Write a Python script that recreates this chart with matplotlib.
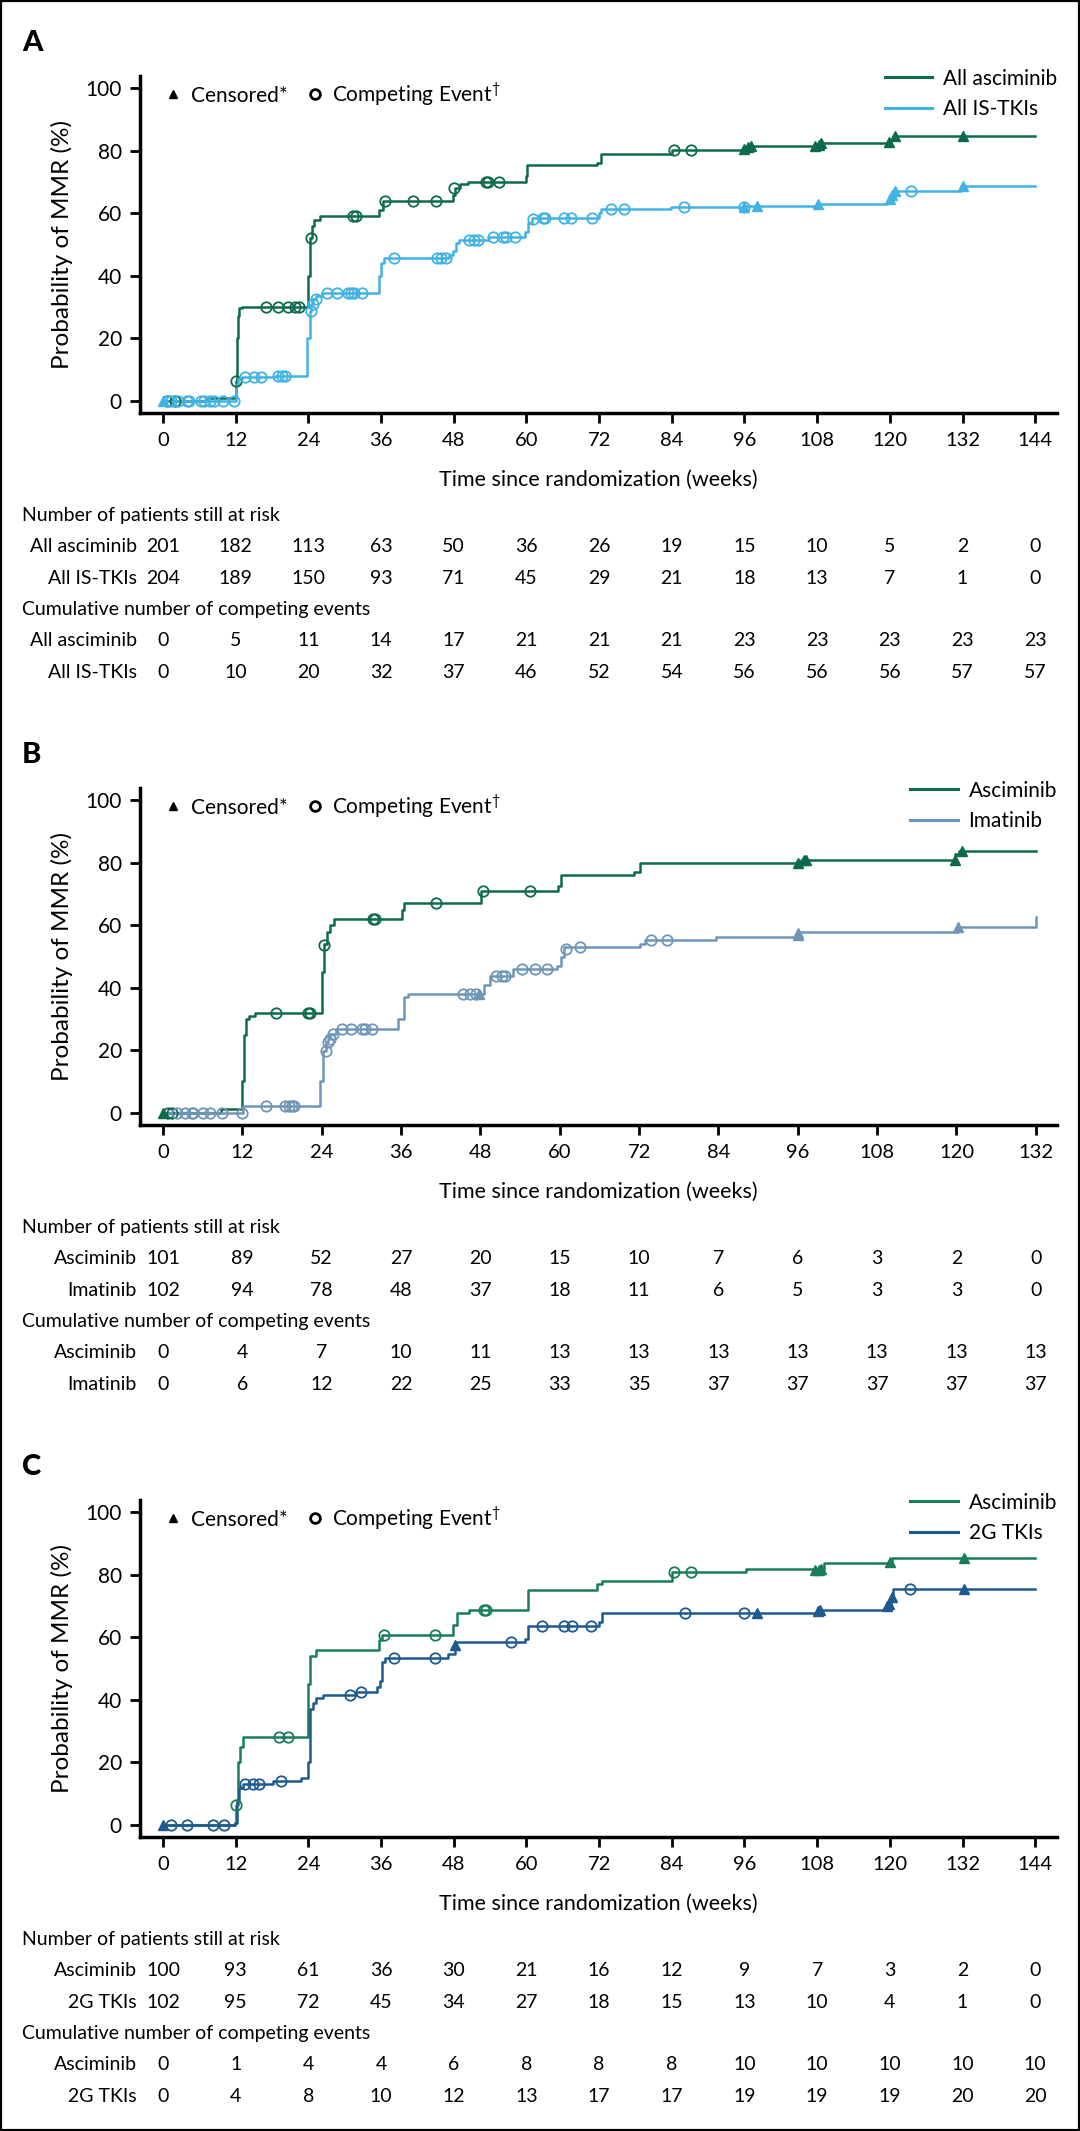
# -*- coding: utf-8 -*-
"""
Cumulative incidence of MMR, three panels (A, B, C) with at-risk tables.
"""

import numpy as np
import matplotlib
matplotlib.use('Agg')
import matplotlib.pyplot as plt
import matplotlib.transforms as mtransforms
from matplotlib.lines import Line2D
from matplotlib.patches import Rectangle

W, H = 1080, 2131

# ---------------- panel A : all asciminib vs all IS-TKIs ----------------
a_asc_t = [0, 7.5, 12.0, 12.2, 12.4, 12.6, 13.0, 23.9, 24.3, 24.6, 24.9, 25.9, 35.6, 36.3,
           47.9, 48.2, 49.0, 50.4, 59.9, 60.1, 71.6, 72.3, 84.0, 96.5, 108.7, 119.9, 120.5, 144]
a_asc_v = [0, 0.9, 6.4, 20, 27, 29.5, 30, 40, 52, 56, 58, 59, 61, 64,
           66, 68, 69.5, 70, 72, 75.4, 76, 79, 80.4, 81.6, 82.5, 83.5, 84.8, 84.8]
a_asc_cens_t = [96.0, 96.6, 97.0, 107.7, 108.3, 108.7, 119.9, 120.8, 132.1]
a_asc_cens_v = [80.6, 81.2, 81.6, 81.6, 82.0, 82.5, 82.8, 84.8, 84.8]
a_asc_comp_t = [0.6, 2.0, 12.0, 17.0, 19.0, 20.7, 21.8, 22.4, 24.4, 31.3, 31.9, 36.6, 41.2, 45.0,
                48.1, 53.3, 53.6, 55.4, 84.3, 87.1]
a_asc_comp_v = [0, 0, 6.4, 30, 30, 30, 30, 30, 52, 59, 59, 64, 64, 64,
                68, 70, 70, 70, 80.4, 80.4]

a_ist_t = [0, 12.0, 12.3, 13.0, 18.5, 23.7, 24.2, 24.5, 24.8, 25.2, 26.2, 35.6, 36.0, 36.5,
           47.2, 47.8, 48.3, 48.8, 53.8, 59.8, 60.3, 61.0, 71.9, 72.3, 83.8, 96.0, 107.9,
           119.6, 120.0, 120.4, 120.8, 131.8, 144]
a_ist_v = [0, 5, 7, 7.5, 8, 20, 28.8, 31, 32.5, 33.5, 34.5, 40, 44, 45.6,
           46.5, 48, 50.4, 51.4, 52.3, 54, 57, 58.5, 60, 61.4, 61.9, 62.4, 63.1,
           64, 65.5, 66.5, 67.0, 68.6, 68.6]
a_ist_cens_t = [0.0, 96.0, 98.1, 108.2, 120.0, 120.4, 120.8, 132.0]
a_ist_cens_v = [0, 62.0, 62.4, 63.1, 64.5, 66.0, 67.0, 68.6]
a_ist_comp_t = [0.85, 1.4, 2.4, 4.0, 4.3, 6.3, 6.8, 7.7, 8.5, 9.9, 11.7,
                13.5, 15.0, 16.1, 19.0, 19.7, 20.1, 24.4, 24.8, 25.2,
                27.1, 28.7, 30.5, 31.0, 31.6, 32.8, 38.2, 45.2, 45.9, 46.7,
                50.6, 51.4, 52.0, 54.4, 56.2, 56.6, 58.1, 61.1, 62.7, 63.0,
                66.2, 67.3, 70.8, 73.9, 76.1, 86.0, 96.0, 123.5]
a_ist_comp_v = [0, 0, 0, 0, 0, 0, 0, 0, 0, 0, 0,
                7.5, 7.5, 7.5, 8, 8, 8, 28.8, 31, 32.5,
                34.5, 34.5, 34.5, 34.5, 34.5, 34.5, 45.6, 45.6, 45.6, 45.6,
                51.4, 51.4, 51.4, 52.3, 52.3, 52.3, 52.3, 58.2, 58.5, 58.5,
                58.5, 58.5, 58.5, 61.4, 61.4, 61.9, 62.0, 67.0]

a_ticks = list(range(0, 145, 12))
a_risk_asc = [201, 182, 113, 63, 50, 36, 26, 19, 15, 10, 5, 2, 0]
a_risk_ist = [204, 189, 150, 93, 71, 45, 29, 21, 18, 13, 7, 1, 0]
a_cum_asc = [0, 5, 11, 14, 17, 21, 21, 21, 23, 23, 23, 23, 23]
a_cum_ist = [0, 10, 20, 32, 37, 46, 52, 54, 56, 56, 56, 57, 57]

# ---------------- panel B : asciminib vs imatinib ----------------
b_asc_t = [0, 8.7, 12.0, 12.3, 12.6, 13.0, 13.9, 24.0, 24.4, 24.8, 25.2, 25.8, 36.1, 36.4,
           48.1, 59.8, 60.2, 71.3, 72.1, 96.5, 119.8, 120.4, 132]
b_asc_v = [0, 1.0, 10, 25, 30, 31, 32, 45, 54, 58, 60, 62, 65, 67.1,
           71.0, 72.5, 76.1, 77, 79.9, 80.9, 83, 83.8, 83.8]
b_asc_cens_t = [0.0, 96.0, 96.9, 97.2, 119.8, 120.9]
b_asc_cens_v = [0, 79.9, 80.9, 80.9, 80.9, 83.8]
b_asc_comp_t = [0.8, 1.4, 17.1, 22.0, 22.3, 24.4, 31.7, 32.1, 41.3, 48.4, 55.5]
b_asc_comp_v = [0, 0, 32, 32, 32, 53.8, 62, 62, 67.1, 71.0, 71.0]

b_ima_t = [0, 12.1, 23.8, 24.2, 24.6, 24.9, 25.3, 26.1, 35.6, 36.4, 37.1, 48.6, 49.4, 53.0,
           59.6, 60.2, 60.6, 72.1, 72.9, 83.6, 96.0, 120.2, 132, 132]
b_ima_v = [0, 2.1, 10, 19.8, 22.7, 23.7, 25.3, 26.9, 30, 37, 38.1, 41, 43.7, 46.0,
           47, 50, 52.9, 54, 55.4, 56.4, 57.7, 59.3, 59.3, 62.5]
b_ima_cens_t = [47.8, 96.0, 96.1, 120.2]
b_ima_cens_v = [38.1, 56.8, 57.5, 59.3]
b_ima_comp_t = [2.1, 3.3, 4.4, 4.6, 6.1, 7.1, 8.9, 11.9, 15.6, 18.5, 19.0, 19.5, 19.8,
                24.6, 24.9, 25.2, 25.7, 27.0, 28.5, 30.1, 30.5, 31.6, 45.3, 46.4, 47.3,
                50.4, 51.2, 51.7, 54.3, 56.2, 58.1, 61.0, 63.1, 73.8, 76.2]
b_ima_comp_v = [0, 0, 0, 0, 0, 0, 0, 0, 2.1, 2.1, 2.1, 2.1, 2.1,
                19.8, 22.7, 23.7, 25.3, 26.9, 26.9, 26.9, 26.9, 26.9, 38.1, 38.1, 38.1,
                43.7, 43.7, 43.7, 46, 46, 46, 52.5, 52.9, 55.4, 55.4]

b_ticks = list(range(0, 133, 12))
b_risk_asc = [101, 89, 52, 27, 20, 15, 10, 7, 6, 3, 2, 0]
b_risk_ima = [102, 94, 78, 48, 37, 18, 11, 6, 5, 3, 3, 0]
b_cum_asc = [0, 4, 7, 10, 11, 13, 13, 13, 13, 13, 13, 13]
b_cum_ima = [0, 6, 12, 22, 25, 33, 35, 37, 37, 37, 37, 37]

# ---------------- panel C : asciminib vs 2G TKIs ----------------
c_asc_t = [0, 11.9, 12.0, 12.4, 12.7, 13.2, 23.9, 24.3, 25.3, 35.6, 36.2, 47.8, 48.5, 50.5,
           60.2, 71.6, 72.5, 84.1, 96.3, 109.1, 120.0, 120.3, 144]
c_asc_v = [0, 0.5, 6.1, 20, 25, 27.9, 45, 54, 55.9, 59, 60.8, 64, 67.9, 68.7,
           75.0, 77, 78.0, 80.8, 81.9, 83.7, 84.5, 85.5, 85.5]
c_asc_cens_t = [107.7, 108.3, 108.7, 120.1, 132.2]
c_asc_cens_v = [81.7, 81.7, 81.9, 84.0, 85.5]
c_asc_comp_t = [12.0, 19.1, 20.6, 36.5, 44.9, 53.0, 53.4, 84.4, 87.2]
c_asc_comp_v = [6.1, 27.9, 27.9, 60.8, 60.8, 68.7, 68.7, 80.8, 80.8]

c_2g_t = [0, 11.9, 12.2, 12.5, 13.2, 18.1, 22.8, 23.9, 24.3, 24.7, 25.3, 26.4, 31.9, 35.4,
          35.8, 36.2, 36.7, 47.0, 48.2, 48.4, 59.8, 60.2, 71.9, 72.5, 108.0, 119.5, 120.2,
          120.5, 144]
c_2g_v = [0, 0.5, 8, 11.7, 13.0, 13.8, 14.9, 20, 37, 39, 40.5, 41.4, 42.5, 44,
          46, 52, 53.4, 54.5, 57, 58.4, 59.5, 63.5, 65, 67.7, 68.8, 70, 72.5,
          75.4, 75.4]
c_2g_cens_t = [0.0, 48.2, 98.1, 108.1, 108.4, 119.5, 119.8, 120.3, 132.2]
c_2g_cens_v = [0, 57.5, 67.7, 68.4, 68.8, 70, 70.8, 73, 75.4]
c_2g_comp_t = [1.4, 4.0, 8.2, 10.0, 13.6, 14.9, 15.9, 19.4, 30.8, 32.7, 38.1, 44.9,
               57.5, 62.5, 66.2, 67.5, 70.7, 86.1, 96.0, 123.3]
c_2g_comp_v = [0, 0, 0, 0, 13, 13, 13, 13.8, 41.4, 42.5, 53.4, 53.4,
               58.4, 63.5, 63.5, 63.5, 63.5, 67.7, 67.7, 75.4]

c_ticks = list(range(0, 145, 12))
c_risk_asc = [100, 93, 61, 36, 30, 21, 16, 12, 9, 7, 3, 2, 0]
c_risk_2g = [102, 95, 72, 45, 34, 27, 18, 15, 13, 10, 4, 1, 0]
c_cum_asc = [0, 1, 4, 4, 6, 8, 8, 8, 10, 10, 10, 10, 10]
c_cum_2g = [0, 4, 8, 10, 12, 13, 17, 17, 19, 19, 19, 20, 20]

GREEN = '#0e6a4e'
GREEN_C = '#187d58'
LIGHTBLUE = '#41b3e2'
STEEL = '#6f96b7'
NAVY = '#1d5a8f'

plt.rcParams['font.family'] = ['Lato', 'DejaVu Sans']
plt.rcParams['mathtext.fontset'] = 'custom'
plt.rcParams['mathtext.rm'] = 'Lato'


def py(p):
    return 1 - p / H


"""
Draws one panel: the curves in an axes whose bottom spine sits at bottom_px,
then the two tables of numbers underneath, aligned on the x ticks.
"""
def drawPanel(fig, letter, bottom_px, xright, ticks, curves, labels, risk, cum):
    ax = fig.add_axes([140 / W, py(bottom_px), 917 / W, 337 / H])
    for t, v, col, ct, cv, et, ev in curves:
        ax.step(t, v, where='post', color=col, lw=1.8, zorder=3)
        ax.plot(et, ev, ls='none', marker='o', ms=7.5, mfc='none', mec=col, mew=1.3, zorder=4)
        ax.plot(ct, cv, ls='none', marker='^', ms=6.5, color=col, mec=col, zorder=5)

    ax.set_xlim(-3.8 * (xright / 147.6), xright)
    ax.set_ylim(-4, 104)
    ax.set_xticks(ticks)
    ax.set_yticks([0, 20, 40, 60, 80, 100])
    for s in ['top', 'right']:
        ax.spines[s].set_visible(False)
    for s in ['left', 'bottom']:
        ax.spines[s].set_linewidth(2.5)
    ax.tick_params(axis='both', direction='out', width=2, length=7)
    ax.tick_params(axis='x', labelsize=14.5, pad=7)
    ax.tick_params(axis='y', labelsize=15, pad=6)

    ax.text((62 - 140) / 917, 0.5, 'Probability of MMR (%)', transform=ax.transAxes,
            rotation=90, ha='center', va='center', fontsize=17.5)

    # line legend, top right
    handles = [Line2D([], [], color=c[2], lw=2.2) for c in curves]
    leg = ax.legend(handles, labels, loc='upper right', bbox_to_anchor=(1.0, 1.022),
                    frameon=False, fontsize=15, handlelength=2.3, handletextpad=0.5,
                    labelspacing=0.5, borderpad=0, borderaxespad=0)
    ax.add_artist(leg)

    # marker key, top left
    keys = [Line2D([], [], ls='none', marker='^', ms=6, color='black'),
            Line2D([], [], ls='none', marker='o', ms=7, mfc='none', mec='black', mew=2)]
    ax.legend(keys, ['Censored*', r'Competing Event$^{\dagger}$'], loc='center left',
              bbox_to_anchor=(0.027, 0.947), ncol=2, frameon=False, fontsize=15,
              handlelength=0.8, handletextpad=0.45, columnspacing=0.9,
              borderpad=0, borderaxespad=0)

    fig.text(22 / W, py(bottom_px - 370), letter, fontsize=21, fontweight='black',
             ha='left', va='center')
    fig.text((140 + 917 / 2) / W, py(bottom_px + 67), 'Time since randomization (weeks)',
             ha='center', va='center', fontsize=15.5)

    trans = mtransforms.blended_transform_factory(ax.transData, fig.transFigure)
    fig.text(22 / W, py(bottom_px + 102), 'Number of patients still at risk',
             ha='left', va='center', fontsize=14)
    fig.text(22 / W, py(bottom_px + 197), 'Cumulative number of competing events',
             ha='left', va='center', fontsize=14)
    rows = [(133, labels[0], risk[0]), (165, labels[1], risk[1]),
            (228, labels[0], cum[0]), (259, labels[1], cum[1])]
    for off, name, vals in rows:
        fig.text(137 / W, py(bottom_px + off), name, ha='right', va='center', fontsize=14)
        for x, n in zip(ticks, vals):
            ax.text(x, py(bottom_px + off), str(n), transform=trans,
                    ha='center', va='center', fontsize=14)
    return ax


fig = plt.figure(figsize=(W / 100, H / 100), dpi=100)

drawPanel(fig, 'A', 413, 147.6, a_ticks,
          [(a_asc_t, a_asc_v, GREEN, a_asc_cens_t, a_asc_cens_v, a_asc_comp_t, a_asc_comp_v),
           (a_ist_t, a_ist_v, LIGHTBLUE, a_ist_cens_t, a_ist_cens_v, a_ist_comp_t, a_ist_comp_v)],
          ['All asciminib', 'All IS-TKIs'],
          [a_risk_asc, a_risk_ist], [a_cum_asc, a_cum_ist])

drawPanel(fig, 'B', 1125, 135.2, b_ticks,
          [(b_asc_t, b_asc_v, GREEN, b_asc_cens_t, b_asc_cens_v, b_asc_comp_t, b_asc_comp_v),
           (b_ima_t, b_ima_v, STEEL, b_ima_cens_t, b_ima_cens_v, b_ima_comp_t, b_ima_comp_v)],
          ['Asciminib', 'Imatinib'],
          [b_risk_asc, b_risk_ima], [b_cum_asc, b_cum_ima])

drawPanel(fig, 'C', 1837, 147.6, c_ticks,
          [(c_asc_t, c_asc_v, GREEN_C, c_asc_cens_t, c_asc_cens_v, c_asc_comp_t, c_asc_comp_v),
           (c_2g_t, c_2g_v, NAVY, c_2g_cens_t, c_2g_cens_v, c_2g_comp_t, c_2g_comp_v)],
          ['Asciminib', '2G TKIs'],
          [c_risk_asc, c_risk_2g], [c_cum_asc, c_cum_2g])

fig.add_artist(Rectangle((0, 0), 1, 1, transform=fig.transFigure, fill=False,
                         lw=3, ec='black'))

fig.savefig('out.png', dpi=100)
